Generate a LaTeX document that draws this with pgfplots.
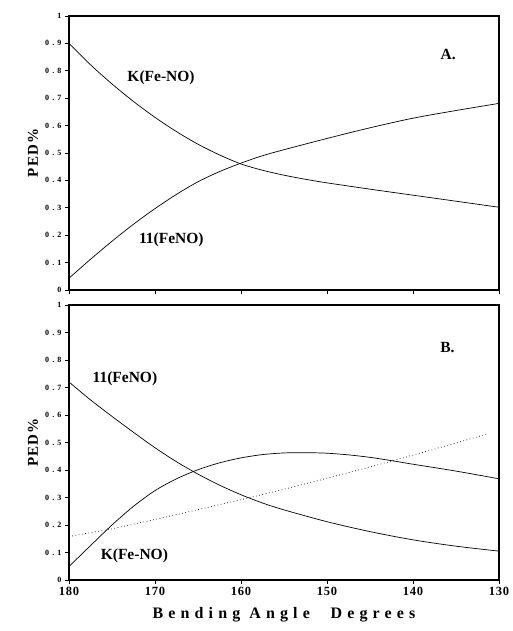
\documentclass[border=0pt]{standalone}
\usepackage{fontspec}
\setmainfont{Liberation Serif}
\usepackage{pgfplots}
\pgfplotsset{compat=1.18}
\pgfplotsset{
 panel/.style={
  scale only axis, width=430pt, height=274pt,
  x dir=reverse, xmin=130, xmax=180, ymin=0, ymax=1,
  xtick={130,140,150,160,170,180},
  ytick={0,0.1,0.2,0.3,0.4,0.5,0.6,0.7,0.8,0.9,1},
  yticklabels={0,0.1,0.2,0.3,0.4,0.5,0.6,0.7,0.8,0.9,1},
  tick align=outside, major tick length=4pt,
  xtick pos=bottom, ytick pos=left,
  axis line style={line width=1.4pt},
  tick style={black, line width=0.6pt},
  /pgf/number format/assume math mode=true,
  yticklabel style={font=\fontsize{8}{9}\selectfont\bfseries\addfontfeature{LetterSpace=40}},
  xticklabel style={font=\fontsize{12.5}{13}\selectfont\bfseries\addfontfeature{LetterSpace=6}},
  ylabel={PED\%},
  ylabel style={font=\fontsize{15}{16}\selectfont\bfseries\addfontfeature{LetterSpace=8}},
  clip=false,
 },
}
\tikzset{
 curve/.style={black, line width=0.7pt, smooth},
 lab/.style={font=\fontsize{15.5}{16}\selectfont\bfseries},
}
\begin{document}
\begin{tikzpicture}
\useasboundingbox (0pt,0pt) rectangle (513pt,631pt);
\begin{axis}[panel, at={(69pt,341pt)}, anchor=south west, xticklabels={}]
\addplot[curve] table {
180 0.900
177.5 0.822
175 0.752
172.5 0.688
170 0.630
167.5 0.578
165 0.532
162.5 0.493
160 0.460
157.5 0.437
155 0.419
152.5 0.404
150 0.391
145 0.368
140 0.346
135 0.324
130 0.302
};
\addplot[curve] table {
180 0.043
177.5 0.112
175 0.178
172.5 0.240
170 0.297
167.5 0.349
165 0.395
162.5 0.432
160 0.463
157.5 0.490
155 0.512
150 0.553
145 0.592
140 0.627
135 0.655
130 0.681
};
\node[lab] at (axis cs:169.3,0.774) {K(Fe-NO)};
\node[lab] at (axis cs:168.1,0.182) {11(FeNO)};
\node[lab] at (axis cs:135.9,0.858) {A.};
\end{axis}
\begin{axis}[panel, at={(69pt,51pt)}, anchor=south west, height=275pt,
  xlabel={Bending Angle\hspace{1.3em}Degrees},
  xlabel style={font=\fontsize{16}{17}\selectfont\bfseries\addfontfeature{LetterSpace=32}, yshift=-5pt}]
\addplot[curve] table {
180 0.720
177.5 0.655
175 0.595
172.5 0.537
170 0.481
167.5 0.430
165 0.385
162.5 0.345
160 0.310
157.5 0.280
155 0.255
150 0.212
145 0.176
140 0.146
135 0.123
130 0.105
};
\addplot[curve] table {
180 0.049
177.5 0.125
175 0.200
172.5 0.268
170 0.325
167.5 0.368
165 0.401
162.5 0.426
160 0.444
157.5 0.456
155 0.462
152.5 0.463
150 0.461
147.5 0.455
145 0.446
142.5 0.434
140 0.421
135 0.396
130 0.368
};
\addplot[black, line width=0.7pt, dash pattern=on 0.7pt off 2.6pt] table {
180 0.158
175 0.186
170 0.220
165 0.256
160 0.292
155 0.330
150 0.370
145 0.411
140 0.454
135 0.498
131.5 0.530
};
\node[lab] at (axis cs:173.5,0.73) {11(FeNO)};
\node[lab] at (axis cs:172.4,0.088) {K(Fe-NO)};
\node[lab] at (axis cs:136,0.847) {B.};
\end{axis}
\end{tikzpicture}
\end{document}
